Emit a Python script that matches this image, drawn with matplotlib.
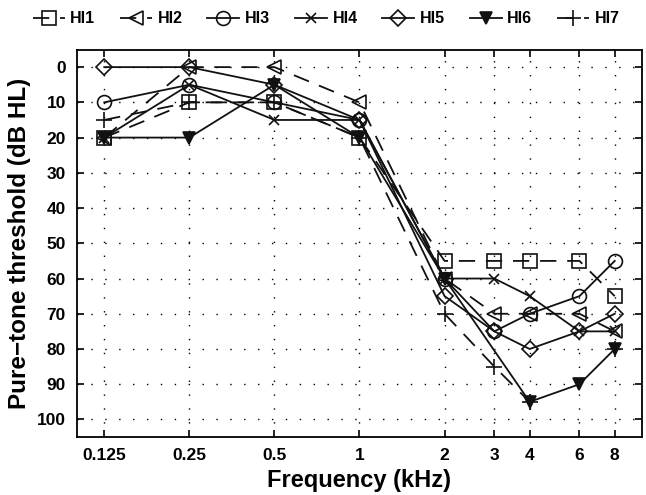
import numpy as np
import matplotlib
matplotlib.use("Agg")
import matplotlib.pyplot as plt

plt.rcParams['font.family'] = ['Liberation Sans', 'DejaVu Sans']
plt.rcParams['font.weight'] = 'bold'

freqs = [0.125, 0.25, 0.5, 1, 2, 3, 4, 6, 8]
freq_labels = ['0.125', '0.25', '0.5', '1', '2', '3', '4', '6', '8']
nan = np.nan

HI1 = [20, 10, 10, 20, 55, 55, 55, 55, 65]
HI2 = [20, 0, 0, 10, 60, 70, 70, 70, 75]
HI3 = [10, 5, 10, 15, 60, 75, 70, 65, 55]
HI4 = [20, 5, 15, 15, 60, 60, 65, 75, 75]
HI5 = [0, 0, 5, 15, 65, 75, 80, 75, 70]
HI6 = [20, 20, 5, 20, 60, nan, 95, 90, 80]
HI7 = [15, 10, 10, 20, 70, 85, 95, nan, 80]

names = ['HI1', 'HI2', 'HI3', 'HI4', 'HI5', 'HI6', 'HI7']
series = [HI1, HI2, HI3, HI4, HI5, HI6, HI7]
markers = ['s', '<', 'o', 'x', 'D', 'v', '+']
dashed = [True, True, False, False, False, False, True]
msizes = [10, 10, 10, 7.5, 8, 9, 12]
connect_over_gap = [False, False, False, False, False, True, False]

fig = plt.figure(figsize=(6.46, 4.95), dpi=100)
ax = fig.add_axes([0.119, 0.117, 0.875, 0.783])

col = '#111111'
handles = []
for name, vals, mk, ds, ms, cg in zip(names, series, markers, dashed, msizes, connect_over_gap):
    x = np.array(freqs, dtype=float)
    y = np.array(vals, dtype=float)
    if cg:
        m = ~np.isnan(y)
        x, y = x[m], y[m]
    filled = (mk == 'v')
    ln, = ax.plot(x, y, color=col, lw=1.3,
                  linestyle=(0, (9, 6)) if ds else '-',
                  marker=mk, markersize=ms,
                  markerfacecolor=col if filled else 'none',
                  markeredgecolor=col, markeredgewidth=1.2, label=name)
    handles.append(ln)

ax.set_xscale('log')
ax.set_xlim(0.1, 10)
ax.set_ylim(105, -5)
ax.set_xticks(freqs)
ax.set_xticklabels(freq_labels)
ax.minorticks_off()
ax.set_yticks(np.arange(0, 101, 10))
ax.tick_params(direction='in', length=5, width=1.2, top=True, right=True,
               labelsize=12.5, pad=8, colors='black')
for lab in ax.get_xticklabels() + ax.get_yticklabels():
    lab.set_fontweight('bold')
ax.grid(True, color='black', linestyle=(0, (1, 9)), linewidth=1.0)
for sp in ax.spines.values():
    sp.set_linewidth(1.3)

ax.set_xlabel('Frequency (kHz)', fontsize=17, fontweight='bold', labelpad=4)
ax.set_ylabel('Pure\u2212tone threshold (dB HL)', fontsize=17.5, fontweight='bold', labelpad=4)

fig.legend(handles=handles, loc='center', bbox_to_anchor=(0.505, 0.962), ncol=7,
           frameon=False, numpoints=1, handlelength=2.0, handletextpad=0.35,
           columnspacing=1.55, prop={'weight': 'bold', 'size': 11.5})

fig.savefig('out.png', dpi=100)
